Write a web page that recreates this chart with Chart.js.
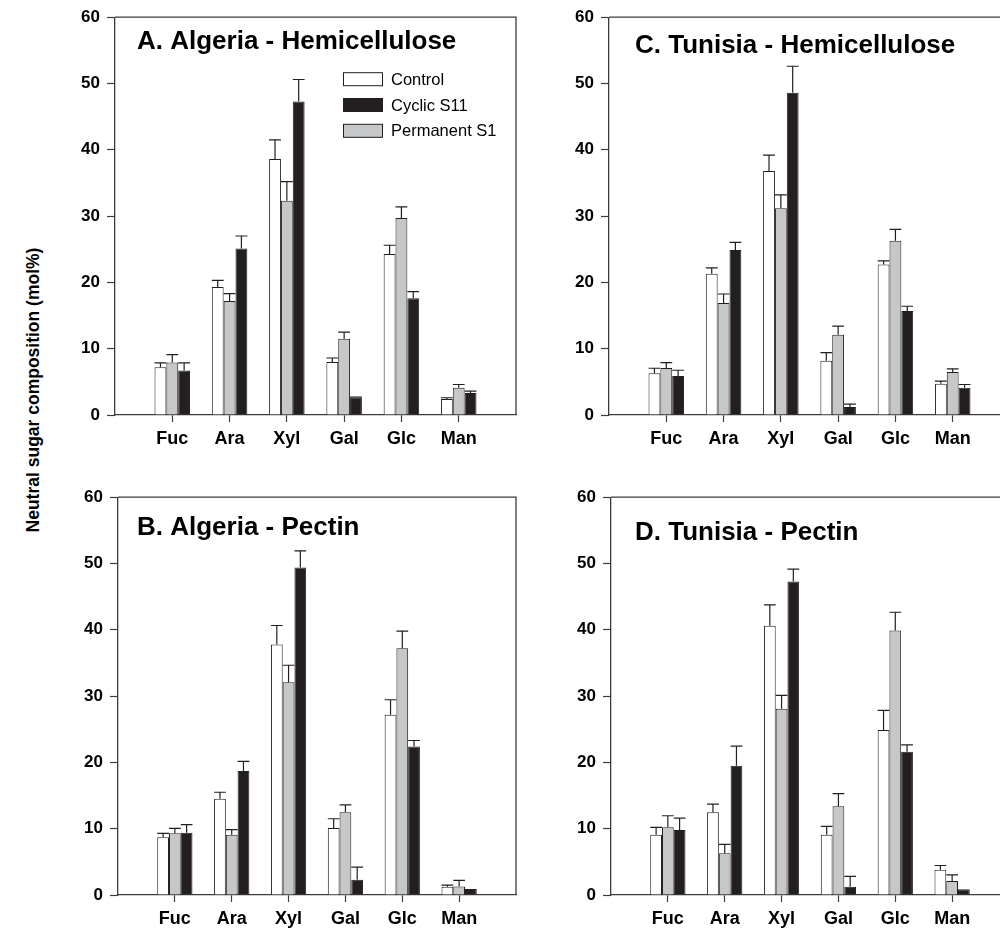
<!DOCTYPE html>
<html>
<head>
<meta charset="utf-8">
<script src="https://cdn.jsdelivr.net/npm/chart.js@4.4.1/dist/chart.umd.min.js"></script>
<style>
  html, body { margin: 0; padding: 0; background: #fff; width: 1000px; height: 932px; overflow: hidden; }
  .panel { position: absolute; }
  #ytitle {
    position: absolute; left: 33px; top: 390px;
    transform: translate(-50%, -50%) rotate(-90deg);
    font: bold 17.5px "Liberation Sans", Arial, sans-serif;
    white-space: nowrap; color: #000;
  }
</style>
</head>
<body>
<div id="ytitle">Neutral sugar composition (mol%)</div>
<div class="panel" style="left:59px;top:0px"><canvas id="chartA" width="463" height="451"></canvas></div>
<div class="panel" style="left:553px;top:0px"><canvas id="chartC" width="463" height="451"></canvas></div>
<div class="panel" style="left:62px;top:480px"><canvas id="chartB" width="460" height="451"></canvas></div>
<div class="panel" style="left:555px;top:480px"><canvas id="chartD" width="460" height="451"></canvas></div>
<script>
// categories and ticks
const sugars = ['Fuc', 'Ara', 'Xyl', 'Gal', 'Glc', 'Man'];
const yTicks = [0, 10, 20, 30, 40, 50, 60];
const seriesNames = ['Control', 'Permanent S1', 'Cyclic S11'];   // bar order
const legendOrder = ['Control', 'Cyclic S11', 'Permanent S1'];

// A. Algeria - Hemicellulose
const algHemiControl = [7.2, 19.3, 38.6, 8.0, 24.3, 2.4];
const algHemiControlErr = [0.65, 1.0, 2.9, 0.6, 1.3, 0.2];
const algHemiPermanent = [7.9, 17.2, 32.3, 11.5, 29.7, 4.1];
const algHemiPermanentErr = [1.2, 1.1, 2.9, 1.0, 1.7, 0.5];
const algHemiCyclic = [6.7, 25.1, 47.3, 2.6, 17.6, 3.3];
const algHemiCyclicErr = [1.15, 1.9, 3.3, 0.1, 1.0, 0.3];

// C. Tunisia - Hemicellulose
const tunHemiControl = [6.3, 21.3, 36.8, 8.2, 22.7, 4.7];
const tunHemiControlErr = [0.75, 0.9, 2.4, 1.2, 0.55, 0.4];
const tunHemiPermanent = [7.1, 16.9, 31.2, 12.1, 26.3, 6.5];
const tunHemiPermanentErr = [0.8, 1.35, 2.0, 1.3, 1.7, 0.45];
const tunHemiCyclic = [5.9, 24.9, 48.6, 1.2, 15.7, 4.1];
const tunHemiCyclicErr = [0.85, 1.15, 4.0, 0.45, 0.7, 0.5];

// B. Algeria - Pectin
const algPecControl = [8.7, 14.5, 37.8, 10.1, 27.2, 1.25];
const algPecControlErr = [0.6, 1.0, 2.85, 1.4, 2.25, 0.25];
const algPecPermanent = [9.3, 9.1, 32.1, 12.5, 37.2, 1.3];
const algPecPermanentErr = [0.75, 0.75, 2.55, 1.1, 2.6, 0.9];
const algPecCyclic = [9.4, 18.7, 49.4, 2.3, 22.4, 0.9];
const algPecCyclicErr = [1.2, 1.45, 2.5, 1.9, 0.9, 0];

// D. Tunisia - Pectin
const tunPecControl = [9.1, 12.5, 40.6, 9.1, 24.9, 3.8];
const tunPecControlErr = [1.1, 1.2, 3.15, 1.25, 2.95, 0.65];
const tunPecPermanent = [10.2, 6.3, 28.1, 13.4, 39.9, 2.1];
const tunPecPermanentErr = [1.75, 1.35, 2.0, 1.9, 2.75, 0.95];
const tunPecCyclic = [9.8, 19.5, 47.3, 1.25, 21.6, 0.85];
const tunPecCyclicErr = [1.8, 2.95, 1.85, 1.55, 1.05, 0];

const fills = ['#ffffff', '#c6c7c9', '#231f20'];
const ink = '#231f20';
const axisColor = '#3c3c3c';

Chart.defaults.font.family = '"Liberation Sans", Arial, sans-serif';
Chart.defaults.color = '#000';

// pad with an empty slot on each side so groups sit at 1/7 ... 6/7 of the width
const pad = arr => [null, ...arr, null];

const errorBars = {
  id: 'errorBars',
  afterDatasetsDraw(chart) {
    const ctx = chart.ctx;
    const y = chart.scales.y;
    ctx.save();
    ctx.strokeStyle = ink;
    ctx.lineWidth = 1.2;
    chart.data.datasets.forEach((ds, i) => {
      chart.getDatasetMeta(i).data.forEach((bar, j) => {
        const v = ds.data[j], e = ds.errors[j];
        if (v == null || !e) return;
        const top = y.getPixelForValue(v + e);
        const half = bar.width / 2;
        ctx.beginPath();
        ctx.moveTo(bar.x, bar.y);
        ctx.lineTo(bar.x, top);
        ctx.moveTo(bar.x - half, top);
        ctx.lineTo(bar.x + half, top);
        ctx.stroke();
      });
    });
    ctx.restore();
  }
};

const frame = {
  id: 'frame',
  afterDraw(chart) {
    const a = chart.chartArea, ctx = chart.ctx;
    ctx.save();
    ctx.strokeStyle = axisColor;
    ctx.lineWidth = 1.3;
    ctx.beginPath();
    ctx.moveTo(a.left, a.top);
    ctx.lineTo(a.right, a.top);
    ctx.lineTo(a.right, a.bottom);
    ctx.stroke();
    ctx.restore();
  }
};

const panelTitle = {
  id: 'panelTitle',
  afterDraw(chart, args, opts) {
    if (!opts.text) return;
    const a = chart.chartArea, ctx = chart.ctx;
    ctx.save();
    ctx.font = 'bold 26px "Liberation Sans", Arial, sans-serif';
    ctx.fillStyle = '#000';
    ctx.textBaseline = 'alphabetic';
    ctx.fillText(opts.text, a.left + opts.dx, a.top + opts.dy);
    ctx.restore();
  }
};

const boxLegend = {
  id: 'boxLegend',
  afterDraw(chart, args, opts) {
    if (!opts.show) return;
    const a = chart.chartArea, ctx = chart.ctx;
    ctx.save();
    ctx.font = '16.5px "Liberation Sans", Arial, sans-serif';
    ctx.textBaseline = 'middle';
    legendOrder.forEach((name, k) => {
      const ds = chart.data.datasets.find(d => d.label === name);
      const cy = a.top + 62 + k * 25.8;
      const bx = a.left + 228;
      ctx.fillStyle = ds.backgroundColor;
      ctx.fillRect(bx, cy - 6.5, 39, 13);
      ctx.strokeStyle = ink;
      ctx.lineWidth = 1;
      ctx.strokeRect(bx + 0.5, cy - 6.5, 39, 13);
      ctx.fillStyle = '#000';
      ctx.fillText(name, a.left + 276, cy + 1);
    });
    ctx.restore();
  }
};

function makePanel(id, title, dx, dy, series, errs, showLegend) {
  new Chart(document.getElementById(id), {
    type: 'bar',
    data: {
      labels: pad(sugars),
      datasets: seriesNames.map((name, i) => ({
        label: name,
        data: pad(series[i]),
        errors: pad(errs[i]),
        backgroundColor: fills[i],
        borderColor: ink,
        borderWidth: 1,
        categoryPercentage: 0.62,
        barPercentage: 1.0
      }))
    },
    options: {
      responsive: false,
      animation: false,
      layout: { padding: { top: 14, right: 6, bottom: 0, left: 0 } },
      plugins: {
        legend: { display: false },
        tooltip: { enabled: false },
        panelTitle: { text: title, dx: dx, dy: dy },
        boxLegend: { show: showLegend }
      },
      scales: {
        x: {
          offset: false,
          afterBuildTicks: s => { s.ticks = s.ticks.filter(t => t.value >= 1 && t.value <= sugars.length); },
          afterFit: s => { s.height = 36; },
          grid: { offset: false, drawOnChartArea: false, tickLength: 7, tickColor: axisColor, tickWidth: 1.2 },
          border: { color: axisColor, width: 1.3 },
          ticks: { autoSkip: false, maxRotation: 0, padding: 6, font: { size: 18, weight: 'bold' }, color: '#000' }
        },
        y: {
          min: 0, max: 60,
          afterBuildTicks: s => { s.ticks = yTicks.map(v => ({ value: v })); },
          afterFit: s => { s.width = 56; },
          grid: { drawOnChartArea: false, tickLength: 8, tickColor: axisColor, tickWidth: 1.2 },
          border: { color: axisColor, width: 1.3 },
          ticks: { padding: 7, font: { size: 17, weight: 'bold' }, color: '#000' }
        }
      }
    },
    plugins: [errorBars, frame, panelTitle, boxLegend]
  });
}

makePanel('chartA', 'A. Algeria - Hemicellulose', 22, 32,
  [algHemiControl, algHemiPermanent, algHemiCyclic],
  [algHemiControlErr, algHemiPermanentErr, algHemiCyclicErr], true);
makePanel('chartC', 'C. Tunisia - Hemicellulose', 26, 36,
  [tunHemiControl, tunHemiPermanent, tunHemiCyclic],
  [tunHemiControlErr, tunHemiPermanentErr, tunHemiCyclicErr], false);
makePanel('chartB', 'B. Algeria - Pectin', 19, 38,
  [algPecControl, algPecPermanent, algPecCyclic],
  [algPecControlErr, algPecPermanentErr, algPecCyclicErr], false);
makePanel('chartD', 'D. Tunisia - Pectin', 24, 43,
  [tunPecControl, tunPecPermanent, tunPecCyclic],
  [tunPecControlErr, tunPecPermanentErr, tunPecCyclicErr], false);
</script>
</body>
</html>
